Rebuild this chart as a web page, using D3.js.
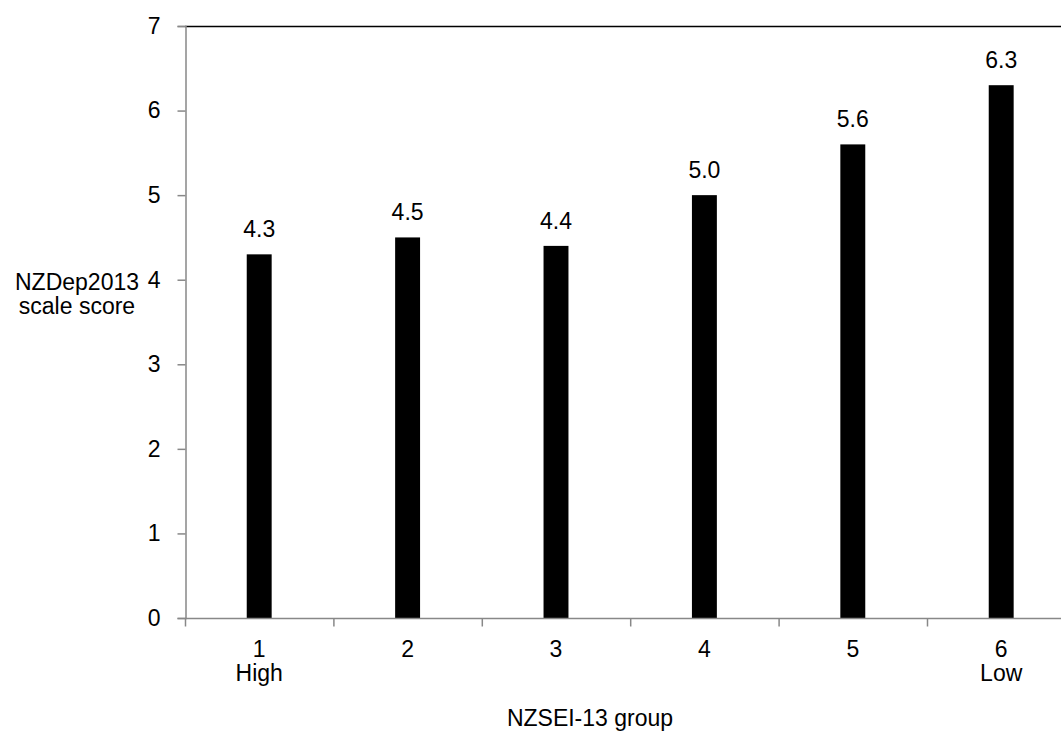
<!DOCTYPE html>
<html><head><meta charset="utf-8">
<script src="https://cdn.jsdelivr.net/npm/d3@7"></script>
<style>body{margin:0;background:#fff}svg{display:block}text{font-family:"Liberation Sans",Arial,sans-serif;fill:#000}</style>
</head><body>
<svg id="c" width="1061" height="733"></svg>
<script>
const categories = ["1","2","3","4","5","6"];
const subLabels = ["High","","","","","Low"];
const values = [4.3, 4.5, 4.4, 5.0, 5.6, 6.3];
const yTicks = [0,1,2,3,4,5,6,7];
const yTitle = ["NZDep2013","scale score"];
const xTitle = "NZSEI-13 group";

(function(){
const svg = d3.select("#c");
const pL = 185, pR = 185 + 6*148.4, pT = 26, pB = 618;
const x = d3.scaleBand().domain(categories).range([pL, pR]).paddingInner(0.832).paddingOuter(0.416);
const xb = d3.scaleBand().domain(categories).range([pL, pR]);
const y = d3.scaleLinear().domain([0,7]).range([pB, pT]);
const fs = 23;

// top border
svg.append("line").attr("x1", pL).attr("x2", pR).attr("y1", pT+0.5).attr("y2", pT+0.5)
  .attr("stroke", "#000").attr("stroke-width", 1.5);

// bars
svg.selectAll("rect.bar").data(values).join("rect").attr("class","bar")
  .attr("x", (d,i)=>x(categories[i])).attr("width", x.bandwidth())
  .attr("y", d=>y(d)).attr("height", d=>y(0)-y(d)).attr("fill","#000");

// value labels
svg.selectAll("text.val").data(values).join("text").attr("class","val")
  .attr("x", (d,i)=>x(categories[i]) + x.bandwidth()/2).attr("y", d=>y(d)-17)
  .attr("text-anchor","middle").attr("font-size", fs).text(d=>d.toFixed(1));

// y axis
const gy = svg.append("g").attr("transform", `translate(${pL+0.5},0)`)
  .call(d3.axisLeft(y).tickValues(yTicks).tickSize(8).tickPadding(17).tickFormat(d3.format("d")));
gy.select(".domain").attr("stroke","#888").attr("stroke-width",1.5);
gy.selectAll(".tick line").attr("stroke","#888").attr("stroke-width",1.5);
gy.selectAll(".tick text").attr("font-size", fs).attr("font-family","Liberation Sans, Arial, sans-serif").attr("fill","#000");

// x axis
const gx = svg.append("g").attr("transform", `translate(0,${pB+0.5})`);
gx.append("line").attr("x1", pL).attr("x2", pR).attr("stroke","#888").attr("stroke-width",1.5);
const bounds = categories.map(c=>xb(c)).concat([pR]);
gx.selectAll("line.t").data(bounds).join("line").attr("class","t")
  .attr("x1", d=>d+0.5).attr("x2", d=>d+0.5).attr("y1",0).attr("y2",8)
  .attr("stroke","#888").attr("stroke-width",1.5);
gx.selectAll("text.c").data(categories).join("text").attr("class","c")
  .attr("x", d=>xb(d)+xb.bandwidth()/2).attr("y", 38).attr("text-anchor","middle").attr("font-size",fs).text(d=>d);
gx.selectAll("text.s").data(subLabels).join("text").attr("class","s")
  .attr("x", (d,i)=>xb(categories[i])+xb.bandwidth()/2).attr("y", 62).attr("text-anchor","middle").attr("font-size",fs).text(d=>d);

// titles
svg.append("text").attr("x", 590).attr("y", 726).attr("text-anchor","middle").attr("font-size",fs).text(xTitle);
svg.selectAll("text.yt").data(yTitle).join("text").attr("class","yt")
  .attr("x", 77).attr("y", (d,i)=>290+i*24).attr("text-anchor","middle").attr("font-size",fs).text(d=>d);
})();
</script>
</body></html>
